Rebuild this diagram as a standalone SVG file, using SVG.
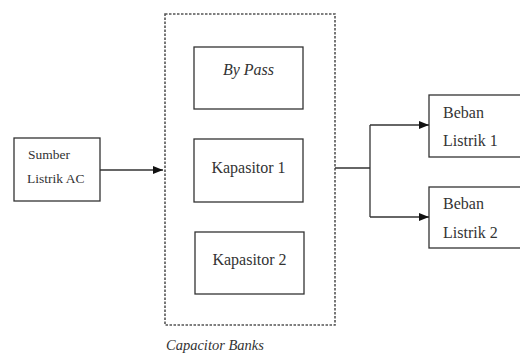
<svg xmlns="http://www.w3.org/2000/svg" width="520" height="354" viewBox="0 0 520 354">
<style>
.box{fill:#fff;stroke:#333;stroke-width:1.3}
.t{fill:#333;font-family:'Liberation Serif','Times New Roman',serif}
.line{fill:none;stroke:#333;stroke-width:1.3}
</style>
<defs>
<marker id="ah" markerWidth="10" markerHeight="8" refX="10" refY="4" orient="auto" markerUnits="userSpaceOnUse">
<path d="M0,0 L10,4 L0,8 Z" fill="#111"/>
</marker>
</defs>
<rect width="520" height="354" fill="#fff"/>
<g id="capacitor-banks">
<rect x="165" y="14" width="170" height="311" fill="none" stroke="#555" stroke-width="1.6" stroke-dasharray="2.5,1.5"/>
<text class="t" x="166" y="350" font-size="14.5" font-style="italic">Capacitor Banks</text>
</g>
<g id="sumber">
<rect class="box" x="14" y="138" width="86" height="63"/>
<text class="t" x="28" y="159" font-size="13.5">Sumber</text>
<text class="t" x="27" y="183" font-size="13.5">Listrik AC</text>
</g>
<g id="bypass">
<rect class="box" x="194" y="47" width="109" height="62"/>
<text class="t" x="248.5" y="75" font-size="16" font-style="italic" text-anchor="middle">By Pass</text>
</g>
<g id="kapasitor1">
<rect class="box" x="194" y="139" width="109" height="63"/>
<text class="t" x="248.5" y="173" font-size="16" text-anchor="middle">Kapasitor 1</text>
</g>
<g id="kapasitor2">
<rect class="box" x="195" y="232" width="109" height="62"/>
<text class="t" x="249.5" y="265" font-size="16" text-anchor="middle">Kapasitor 2</text>
</g>
<g id="beban1">
<rect class="box" x="429" y="95" width="95" height="62"/>
<text class="t" x="443" y="118" font-size="16">Beban</text>
<text class="t" x="443" y="146" font-size="16">Listrik 1</text>
</g>
<g id="beban2">
<rect class="box" x="429" y="187" width="95" height="61"/>
<text class="t" x="443" y="209" font-size="16">Beban</text>
<text class="t" x="443" y="238" font-size="16">Listrik 2</text>
</g>
<g id="connectors">
<line class="line" x1="100" y1="170" x2="163" y2="170" marker-end="url(#ah)"/>
<polyline class="line" points="335,168 370,168"/>
<polyline class="line" points="370,125 370,217"/>
<line class="line" x1="370" y1="125" x2="429" y2="125" marker-end="url(#ah)"/>
<line class="line" x1="370" y1="217" x2="429" y2="217" marker-end="url(#ah)"/>
</g>
</svg>
